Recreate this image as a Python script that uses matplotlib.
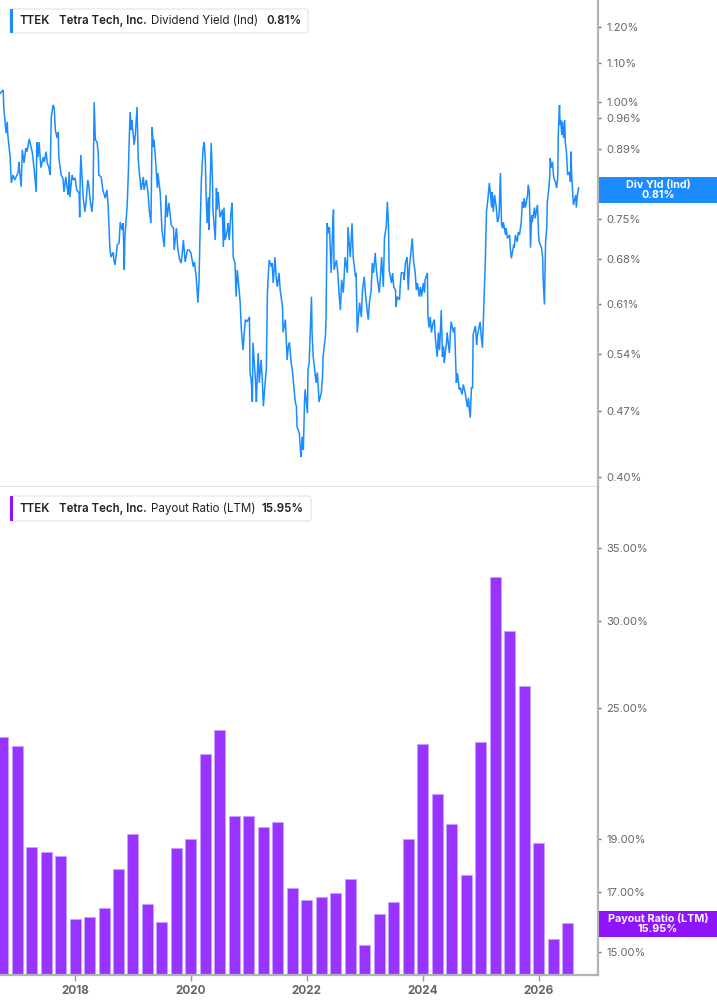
import matplotlib
matplotlib.use("Agg")
import matplotlib.pyplot as plt
import matplotlib.ticker as mticker
from matplotlib.patches import FancyBboxPatch, Rectangle
from matplotlib.transforms import IdentityTransform

plt.rcParams['font.family'] = ['Inter', 'DejaVu Sans']

W, H = 717, 1005

# dividend yield (Ind), %
div_dates = [
    2016.71, 2016.76, 2016.77, 2016.81, 2016.83, 2016.84, 2016.88, 2016.90, 2016.93, 2016.96,
    2017.02, 2017.03, 2017.07, 2017.09, 2017.12, 2017.15, 2017.17, 2017.21, 2017.24, 2017.26,
    2017.29, 2017.33, 2017.34, 2017.36, 2017.38, 2017.41, 2017.45, 2017.47, 2017.50, 2017.52,
    2017.55, 2017.57, 2017.59, 2017.62, 2017.64, 2017.66, 2017.69, 2017.71, 2017.72, 2017.76,
    2017.79, 2017.81, 2017.84, 2017.88, 2017.90, 2017.91, 2017.95, 2017.97, 2018.00, 2018.03,
    2018.07, 2018.08, 2018.09, 2018.10, 2018.12, 2018.14, 2018.17, 2018.19, 2018.22, 2018.24,
    2018.26, 2018.29, 2018.31, 2018.33, 2018.35, 2018.38, 2018.40, 2018.41, 2018.45, 2018.48,
    2018.52, 2018.55, 2018.57, 2018.59, 2018.60, 2018.62, 2018.66, 2018.67, 2018.69, 2018.73,
    2018.76, 2018.78, 2018.81, 2018.83, 2018.85, 2018.86, 2018.90, 2018.92, 2018.93, 2018.95,
    2018.97, 2018.98, 2019.02, 2019.04, 2019.07, 2019.09, 2019.11, 2019.14, 2019.18, 2019.19,
    2019.23, 2019.26, 2019.28, 2019.31, 2019.33, 2019.35, 2019.36, 2019.38, 2019.42, 2019.43,
    2019.47, 2019.50, 2019.54, 2019.57, 2019.59, 2019.62, 2019.66, 2019.70, 2019.71, 2019.75,
    2019.77, 2019.80, 2019.83, 2019.85, 2019.87, 2019.90, 2019.94, 2019.97, 2020.00, 2020.04,
    2020.06, 2020.09, 2020.12, 2020.14, 2020.16, 2020.18, 2020.21, 2020.23, 2020.25, 2020.26,
    2020.28, 2020.30, 2020.31, 2020.35, 2020.37, 2020.38, 2020.42, 2020.44, 2020.45, 2020.47,
    2020.50, 2020.54, 2020.56, 2020.57, 2020.59, 2020.63, 2020.64, 2020.66, 2020.69, 2020.71,
    2020.73, 2020.76, 2020.78, 2020.80, 2020.83, 2020.85, 2020.87, 2020.90, 2020.92, 2020.94,
    2020.97, 2021.01, 2021.02, 2021.04, 2021.06, 2021.07, 2021.11, 2021.13, 2021.14, 2021.16,
    2021.18, 2021.21, 2021.23, 2021.25, 2021.28, 2021.30, 2021.32, 2021.33, 2021.35, 2021.39,
    2021.40, 2021.42, 2021.45, 2021.47, 2021.49, 2021.52, 2021.54, 2021.58, 2021.59, 2021.63,
    2021.66, 2021.68, 2021.70, 2021.73, 2021.75, 2021.77, 2021.80, 2021.82, 2021.83, 2021.87,
    2021.89, 2021.90, 2021.92, 2021.94, 2021.96, 2021.97, 2022.01, 2022.02, 2022.04, 2022.08,
    2022.09, 2022.11, 2022.13, 2022.16, 2022.18, 2022.20, 2022.21, 2022.25, 2022.27, 2022.28,
    2022.32, 2022.33, 2022.35, 2022.37, 2022.39, 2022.42, 2022.44, 2022.46, 2022.47, 2022.51,
    2022.53, 2022.56, 2022.58, 2022.60, 2022.63, 2022.65, 2022.66, 2022.70, 2022.71, 2022.75,
    2022.78, 2022.80, 2022.84, 2022.85, 2022.87, 2022.89, 2022.91, 2022.94, 2022.96, 2022.99,
    2023.01, 2023.04, 2023.06, 2023.08, 2023.11, 2023.13, 2023.15, 2023.18, 2023.20, 2023.22,
    2023.25, 2023.27, 2023.29, 2023.32, 2023.34, 2023.37, 2023.39, 2023.41, 2023.42, 2023.46,
    2023.48, 2023.50, 2023.53, 2023.54, 2023.56, 2023.60, 2023.61, 2023.63, 2023.67, 2023.68,
    2023.70, 2023.73, 2023.75, 2023.77, 2023.80, 2023.82, 2023.84, 2023.87, 2023.89, 2023.91,
    2023.94, 2023.96, 2023.98, 2024.01, 2024.03, 2024.04, 2024.08, 2024.09, 2024.11, 2024.13,
    2024.15, 2024.18, 2024.20, 2024.22, 2024.25, 2024.27, 2024.29, 2024.32, 2024.34, 2024.36,
    2024.37, 2024.41, 2024.42, 2024.46, 2024.48, 2024.49, 2024.53, 2024.55, 2024.56, 2024.58,
    2024.60, 2024.63, 2024.65, 2024.68, 2024.70, 2024.73, 2024.77, 2024.79, 2024.80, 2024.82,
    2024.84, 2024.86, 2024.87, 2024.91, 2024.93, 2024.94, 2024.98, 2024.99, 2025.01, 2025.03,
    2025.05, 2025.08, 2025.10, 2025.12, 2025.15, 2025.17, 2025.19, 2025.20, 2025.22, 2025.24,
    2025.27, 2025.29, 2025.31, 2025.32, 2025.34, 2025.36, 2025.38, 2025.39, 2025.43, 2025.44,
    2025.46, 2025.50, 2025.51, 2025.53, 2025.57, 2025.58, 2025.60, 2025.63, 2025.65, 2025.67,
    2025.70, 2025.72, 2025.74, 2025.75, 2025.77, 2025.81, 2025.82, 2025.84, 2025.86, 2025.88,
    2025.89, 2025.93, 2025.94, 2025.96, 2025.98, 2026.00, 2026.01, 2026.05, 2026.07, 2026.08,
    2026.10, 2026.12, 2026.14, 2026.15, 2026.17, 2026.19, 2026.20, 2026.22, 2026.24, 2026.26,
    2026.29, 2026.31, 2026.33, 2026.34, 2026.36, 2026.37, 2026.38, 2026.40, 2026.41, 2026.43,
    2026.45, 2026.46, 2026.48, 2026.50, 2026.53, 2026.55, 2026.56, 2026.57, 2026.58, 2026.60,
    2026.64, 2026.65, 2026.67, 2026.69,
]
div_yield = [
    1.021, 1.029, 0.987, 0.926, 0.952, 0.922, 0.873, 0.820, 0.836, 0.826,
    0.842, 0.863, 0.812, 0.889, 0.861, 0.893, 0.885, 0.913, 0.895, 0.885,
    0.853, 0.802, 0.906, 0.873, 0.906, 0.851, 0.873, 0.863, 0.885, 0.861,
    0.851, 0.836, 0.963, 0.992, 0.985, 0.933, 0.915, 0.928, 0.873, 0.836,
    0.830, 0.802, 0.832, 0.796, 0.842, 0.792, 0.836, 0.826, 0.830, 0.806,
    0.800, 0.754, 0.836, 0.878, 0.832, 0.792, 0.764, 0.783, 0.826, 0.812,
    0.787, 0.764, 0.787, 0.999, 0.911, 0.906, 0.882, 0.836, 0.832, 0.806,
    0.790, 0.806, 0.777, 0.726, 0.701, 0.684, 0.692, 0.679, 0.671, 0.705,
    0.708, 0.745, 0.731, 0.743, 0.663, 0.718, 0.777, 0.840, 0.889, 0.975,
    0.933, 0.956, 0.900, 0.922, 0.987, 0.871, 0.840, 0.806, 0.832, 0.806,
    0.826, 0.800, 0.768, 0.743, 0.940, 0.895, 0.911, 0.885, 0.810, 0.840,
    0.800, 0.731, 0.701, 0.796, 0.754, 0.781, 0.740, 0.734, 0.696, 0.734,
    0.701, 0.682, 0.674, 0.691, 0.713, 0.676, 0.696, 0.696, 0.691, 0.668,
    0.676, 0.652, 0.612, 0.647, 0.740, 0.826, 0.893, 0.906, 0.861, 0.800,
    0.743, 0.792, 0.731, 0.904, 0.832, 0.768, 0.713, 0.810, 0.768, 0.802,
    0.754, 0.768, 0.701, 0.772, 0.713, 0.731, 0.743, 0.713, 0.762, 0.781,
    0.684, 0.674, 0.621, 0.663, 0.631, 0.612, 0.573, 0.545, 0.569, 0.587,
    0.584, 0.591, 0.515, 0.507, 0.480, 0.555, 0.510, 0.480, 0.503, 0.541,
    0.503, 0.532, 0.510, 0.475, 0.503, 0.519, 0.627, 0.647, 0.679, 0.668,
    0.674, 0.642, 0.684, 0.652, 0.636, 0.658, 0.631, 0.606, 0.569, 0.587,
    0.532, 0.550, 0.555, 0.528, 0.519, 0.503, 0.480, 0.475, 0.452, 0.445,
    0.427, 0.420, 0.441, 0.427, 0.480, 0.495, 0.467, 0.519, 0.528, 0.621,
    0.569, 0.536, 0.523, 0.503, 0.516, 0.495, 0.480, 0.491, 0.510, 0.536,
    0.563, 0.583, 0.743, 0.725, 0.736, 0.658, 0.718, 0.768, 0.663, 0.679,
    0.663, 0.621, 0.601, 0.647, 0.627, 0.663, 0.684, 0.658, 0.736, 0.684,
    0.743, 0.684, 0.652, 0.658, 0.569, 0.591, 0.612, 0.591, 0.631, 0.652,
    0.627, 0.601, 0.587, 0.612, 0.631, 0.674, 0.658, 0.691, 0.663, 0.647,
    0.627, 0.652, 0.684, 0.636, 0.718, 0.736, 0.783, 0.736, 0.663, 0.642,
    0.658, 0.636, 0.631, 0.606, 0.621, 0.616, 0.636, 0.658, 0.658, 0.647,
    0.674, 0.684, 0.631, 0.668, 0.696, 0.716, 0.679, 0.658, 0.631, 0.642,
    0.621, 0.636, 0.621, 0.642, 0.627, 0.647, 0.658, 0.591, 0.576, 0.591,
    0.569, 0.583, 0.587, 0.559, 0.536, 0.569, 0.545, 0.601, 0.536, 0.550,
    0.528, 0.555, 0.569, 0.541, 0.573, 0.584, 0.569, 0.576, 0.550, 0.503,
    0.515, 0.495, 0.497, 0.489, 0.501, 0.492, 0.474, 0.485, 0.474, 0.462,
    0.497, 0.497, 0.566, 0.578, 0.552, 0.563, 0.580, 0.584, 0.563, 0.548,
    0.598, 0.676, 0.764, 0.783, 0.820, 0.796, 0.772, 0.802, 0.764, 0.796,
    0.772, 0.745, 0.752, 0.764, 0.840, 0.740, 0.734, 0.745, 0.722, 0.734,
    0.716, 0.722, 0.700, 0.682, 0.705, 0.700, 0.722, 0.710, 0.727, 0.722,
    0.745, 0.783, 0.772, 0.790, 0.772, 0.796, 0.816, 0.802, 0.700, 0.758,
    0.745, 0.772, 0.752, 0.764, 0.777, 0.722, 0.710, 0.700, 0.682, 0.644,
    0.609, 0.710, 0.734, 0.783, 0.802, 0.830, 0.871, 0.851, 0.863, 0.830,
    0.822, 0.810, 0.830, 0.928, 0.992, 0.945, 0.956, 0.922, 0.952, 0.915,
    0.956, 0.906, 0.885, 0.836, 0.842, 0.822, 0.885, 0.836, 0.816, 0.777,
    0.796, 0.772, 0.796, 0.810,
]

# payout ratio (LTM), %, one bar per quarter
payout_quarters = [
    2016.75, 2017.00, 2017.25, 2017.50, 2017.75, 2018.00, 2018.25, 2018.50, 2018.75, 2019.00,
    2019.25, 2019.50, 2019.75, 2020.00, 2020.25, 2020.50, 2020.75, 2021.00, 2021.25, 2021.50,
    2021.75, 2022.00, 2022.25, 2022.50, 2022.75, 2023.00, 2023.25, 2023.50, 2023.75, 2024.00,
    2024.25, 2024.50, 2024.75, 2025.00, 2025.25, 2025.50, 2025.75, 2026.00, 2026.25, 2026.50,
]
payout_ratio = [
    23.55, 23.10, 18.70, 18.50, 18.35, 16.08, 16.14, 16.45, 17.85, 19.20,
    16.59, 15.97, 18.66, 19.00, 22.70, 23.90, 19.95, 19.95, 19.50, 19.70,
    17.16, 16.73, 16.83, 16.98, 17.48, 15.22, 16.24, 16.66, 19.00, 23.20,
    20.90, 19.62, 17.63, 23.30, 32.90, 29.40, 26.20, 18.85, 15.40, 15.95,
]

yield_ticks = [0.40, 0.47, 0.54, 0.61, 0.68, 0.75, 0.82, 0.89, 0.96, 1.00, 1.10, 1.20]
payout_ticks = [15, 17, 19, 25, 30, 35]
year_ticks = [2018, 2020, 2022, 2024, 2026]

BLUE = '#1a8cff'
PURPLE = '#9933ff'
PURPLE_TAG = '#9013fe'
TEXT = '#222222'
TICK = '#666666'
SPINE = '#b3b3b3'

px = IdentityTransform()


def fig_box(x0, y0, x1, y1):
    # pixel box (top-left origin) -> figure fraction rect
    return [x0 / W, 1 - y1 / H, (x1 - x0) / W, (y1 - y0) / H]


def fmt_pct(v, pos):
    # the 0.82% label sits under the value tag, so leave it blank
    if abs(v - 0.82) < 1e-6:
        return ''
    return '%.2f%%' % v


def style_axis(ax, ticks):
    ax.set_yscale('log')
    ax.yaxis.set_major_locator(mticker.FixedLocator(ticks))
    ax.yaxis.set_major_formatter(mticker.FuncFormatter(fmt_pct))
    ax.yaxis.set_minor_locator(mticker.NullLocator())
    ax.yaxis.tick_right()
    ax.tick_params(axis='y', which='major', length=2.5, width=1, color='#777777',
                   labelsize=8, labelcolor=TICK, pad=4)
    ax.spines['top'].set_visible(False)
    ax.spines['left'].set_visible(False)
    ax.spines['right'].set_color(SPINE)
    ax.spines['right'].set_linewidth(1.6)
    ax.set_facecolor('white')


def legend_box(y0, y1, x1, accent, parts):
    box = FancyBboxPatch((10, H - y1), x1 - 10, y1 - y0,
                         boxstyle='round,pad=0,rounding_size=3',
                         fc='white', ec='#e4e4e4', lw=0.8, transform=px, zorder=5)
    fig.add_artist(box)
    fig.add_artist(Rectangle((10, H - y1), 3, y1 - y0, fc=accent, ec='none',
                             transform=px, zorder=6))
    yc = H - (y0 + y1) / 2
    for x, s, w in parts:
        fig.text(x, yc, s, transform=px, va='center', ha='left', fontsize=8.3,
                 fontweight=w, color=TEXT, zorder=7)


def value_tag(y0, y1, color, lines):
    fig.add_artist(Rectangle((598.5, H - y1), W - 598.5, y1 - y0, fc=color, ec='none',
                             transform=px, zorder=5))
    yc = H - (y0 + y1) / 2
    fig.text(658, yc + 5.5, lines[0], transform=px, ha='center', va='center',
             fontsize=7.8, fontweight='bold', color='white', zorder=6)
    fig.text(658, yc - 5, lines[1], transform=px, ha='center', va='center',
             fontsize=7.8, fontweight='bold', color='white', zorder=6)


fig = plt.figure(figsize=(W / 100, H / 100), dpi=100)
fig.patch.set_facecolor('white')

x_lo, x_hi = 2016.705, 2027.016

# upper panel: dividend yield line
ax1 = fig.add_axes(fig_box(0, 0, 597.5, 487))
ax1.plot(div_dates, div_yield, color=BLUE, lw=1.1, solid_joinstyle='miter')
style_axis(ax1, yield_ticks)
ax1.set_xlim(x_lo, x_hi)
ax1.set_ylim(0.390, 1.282)
ax1.tick_params(axis='x', bottom=False, labelbottom=False)
ax1.spines['bottom'].set_color('#e2e2e2')
ax1.spines['bottom'].set_linewidth(1.6)

# lower panel: payout ratio bars
ax2 = fig.add_axes(fig_box(0, 487, 597.5, 975))
ax2.bar(payout_quarters, [v - 1 for v in payout_ratio], bottom=1, width=0.19,
        color=PURPLE, edgecolor='#c9a2ff', linewidth=0.6)
style_axis(ax2, payout_ticks)
ax2.set_xlim(x_lo, x_hi)
ax2.set_ylim(14.29, 39.77)
ax2.spines['bottom'].set_color(SPINE)
ax2.spines['bottom'].set_linewidth(1.6)
ax2.set_xticks(year_ticks)
ax2.set_xticklabels([str(y) for y in year_ticks])
ax2.tick_params(axis='x', length=4, width=1, color='#999999', labelsize=8.5,
                labelcolor=TICK, pad=3)
for lbl in ax2.get_xticklabels():
    lbl.set_fontweight('bold')

legend_box(9, 33, 308, BLUE, [(20, 'TTEK', 'semibold'), (59, 'Tetra Tech, Inc.', 'semibold'),
                              (151, 'Dividend Yield (Ind)', 'normal'), (266, '0.81%', 'semibold')])
legend_box(496, 521, 311, PURPLE_TAG, [(20, 'TTEK', 'semibold'), (59, 'Tetra Tech, Inc.', 'semibold'),
                                       (151, 'Payout Ratio (LTM)', 'normal'), (262, '15.95%', 'semibold')])

value_tag(177, 203, BLUE, ['Div Yld (Ind)', '0.81%'])
value_tag(911, 937, PURPLE_TAG, ['Payout Ratio (LTM)', '15.95%'])

fig.savefig('out.png', dpi=100, facecolor='white')
